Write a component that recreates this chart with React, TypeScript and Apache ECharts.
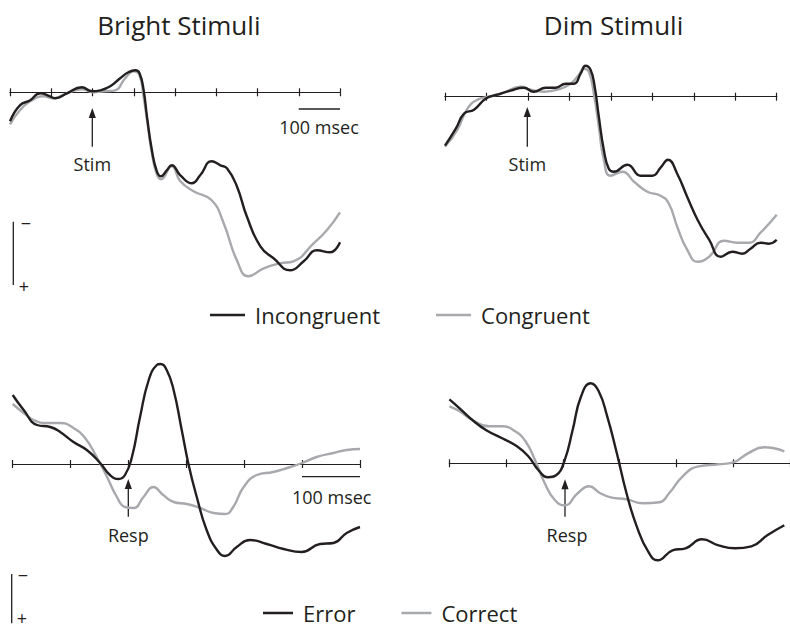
import React, { useEffect, useRef } from "react";
import * as echarts from "echarts";

// ---------- data (time in ms, amplitude in µV; negative plotted up) ----------
const brightIncT = [-200, -176, -151, -127, -103, -90, -62, -26, -1, 19, 43, 67, 87, 104, 114, 124, 132, 144, 156, 166, 180, 192, 213, 241, 261, 289, 310, 326, 350, 374, 407, 439, 479, 512, 544, 576, 600];
const brightIncV = [2.9, 1.3, 0.8, 0.1, 0.4, 0.6, 0.1, -0.5, -0.1, -0.2, -0.6, -1.4, -2.0, -2.2, -1.9, -0.2, 2.4, 5.8, 7.9, 8.4, 7.8, 7.3, 8.3, 9.1, 8.3, 6.9, 7.3, 7.6, 9.4, 12.4, 15.4, 16.6, 17.8, 16.9, 15.8, 16.0, 15.0];

const brightConT = [-200, -176, -151, -119, -95, -62, -26, 2, 27, 55, 79, 100, 114, 124, 132, 144, 156, 166, 192, 213, 245, 289, 318, 350, 378, 415, 455, 487, 536, 568, 600];
const brightConV = [3.2, 1.8, 0.9, 0.4, 0.6, 0.1, -0.3, 0, -0.1, -0.2, -1.4, -2.1, -1.7, 0.5, 2.7, 6.1, 8.2, 8.7, 7.4, 8.9, 9.9, 10.8, 13.1, 16.8, 18.4, 17.6, 17.1, 16.9, 15.1, 13.8, 12.0];

const dimIncT = [-200, -174, -154, -130, -102, -74, -42, -10, 14, 43, 67, 91, 111, 127, 139, 151, 161, 171, 183, 195, 207, 240, 272, 300, 320, 338, 360, 384, 409, 437, 465, 493, 517, 537, 561, 581, 600];
const dimIncV = [4.9, 3.2, 1.7, 1.3, 0.2, -0.2, -0.6, -0.9, -0.5, -0.9, -0.9, -1.3, -1.3, -2.3, -3.1, -2.7, -1.0, 2.0, 5.3, 7.2, 7.5, 6.8, 7.9, 7.9, 7.1, 6.3, 7.7, 10.0, 12.3, 14.3, 16.0, 15.5, 15.7, 15.2, 14.6, 14.7, 14.3];

const dimConT = [-200, -170, -146, -122, -94, -58, -18, 7, 39, 71, 103, 123, 135, 147, 159, 171, 183, 199, 228, 256, 288, 320, 340, 360, 384, 409, 437, 473, 505, 533, 561, 600];
const dimConV = [5.0, 3.3, 1.2, 0.3, 0, -0.4, -1.0, -0.7, -0.5, -0.7, -1.3, -2.2, -2.8, -2.5, -0.3, 3.0, 6.3, 7.9, 7.5, 8.5, 9.5, 9.9, 10.7, 13.0, 15.3, 16.5, 16.0, 14.4, 14.6, 14.6, 13.6, 11.8];

const brightErrT = [-200, -181, -158, -135, -118, -95, -72, -49, -32, -17, -6, 6, 20, 35, 49, 55, 66, 78, 92, 104, 118, 135, 153, 167, 187, 210, 239, 268, 299, 331, 354, 377, 400];
const brightErrV = [-6.9, -5.4, -3.9, -3.7, -3.2, -2.2, -1.4, -0.1, 1.1, 1.5, 1.1, -0.7, -4.7, -8.4, -9.9, -10.0, -9.4, -7.4, -3.4, 0.1, 3.3, 6.6, 8.6, 9.2, 8.3, 7.6, 8.0, 8.5, 8.8, 8.0, 7.9, 6.9, 6.3];

const brightCorT = [-200, -181, -164, -141, -118, -95, -75, -55, -37, -20, -6, 9, 26, 43, 60, 78, 101, 124, 147, 167, 181, 199, 222, 250, 274, 300, 325, 354, 377, 400];
const brightCorV = [-6.0, -5.1, -4.4, -4.1, -4.1, -3.6, -2.6, -0.7, 1.3, 3.3, 4.3, 4.4, 3.3, 2.3, 3.1, 3.8, 4.0, 4.4, 4.9, 5.0, 4.3, 2.3, 1.1, 0.8, 0.4, -0.1, -0.7, -1.1, -1.4, -1.5];

const dimErrT = [-200, -182, -159, -135, -107, -81, -61, -43, -26, -12, 3, 17, 32, 49, 63, 78, 95, 112, 130, 150, 167, 193, 216, 245, 274, 303, 332, 360, 390];
const dimErrV = [-6.4, -5.5, -4.3, -3.3, -2.5, -1.7, -0.7, 0.7, 1.4, 1.2, -0.3, -3.3, -6.7, -8.0, -7.2, -4.7, -1.0, 3.0, 6.3, 8.8, 9.7, 8.7, 8.5, 7.6, 8.2, 8.5, 8.3, 7.2, 6.2];

const dimCorT = [-200, -182, -159, -130, -107, -84, -66, -49, -32, -14, 3, 26, 46, 66, 84, 112, 141, 170, 187, 211, 239, 274, 300, 326, 355, 372, 390];
const dimCorV = [-5.7, -5.2, -4.3, -3.7, -3.7, -3.2, -2.2, -0.3, 2.0, 3.7, 4.2, 3.0, 2.3, 3.0, 3.4, 3.6, 4.0, 3.9, 3.0, 1.3, 0.3, 0.1, -0.1, -1.0, -1.6, -1.5, -1.2];

const panelTitles = ["Bright Stimuli", "Dim Stimuli"];
const topLegend = ["Incongruent", "Congruent"];
const bottomLegend = ["Error", "Correct"];
const xMin = -200;
const xMaxes = [600, 600, 400, 400];
const tickStep = 100;

const INK = "#231f20";
const GREY = "#a7a9ac";
const FONT = "Open Sans";

function pairs(t: number[], v: number[]) {
  return t.map((x, i) => [x, v[i]]);
}

export default function App() {
  const ref = useRef<HTMLDivElement>(null);

  useEffect(() => {
    const chart = echarts.init(ref.current as HTMLDivElement, null, { renderer: "svg" });

    const grids = [
      { left: 10, top: 52.3, width: 330, height: 240 },
      { left: 445, top: 56.7, width: 331.7, height: 240 },
      { left: 12.7, top: 344, width: 347.3, height: 240 },
      { left: 449.4, top: 343.3, width: 346.6, height: 240 },
    ];
    const yRanges = [
      [-4, 20],
      [-4, 20],
      [-12, 12],
      [-12, 12],
    ];

    // two x axes per panel (ticks below and above the zero line), each sitting
    // on the zero of its own (hidden, identical) y axis
    const xAxis: any[] = [];
    const yAxis: any[] = [];
    grids.forEach((_, i) => {
      ["bottom", "top"].forEach((pos, k) => {
        xAxis.push({
          type: "value",
          gridIndex: i,
          position: pos,
          min: xMin,
          max: xMaxes[i],
          interval: tickStep,
          axisLine: { show: true, onZero: true, onZeroAxisIndex: 2 * i + k, lineStyle: { color: INK, width: 1.2 } },
          axisTick: { show: true, length: 4, lineStyle: { color: INK, width: 1.2 } },
          axisLabel: { show: false },
          splitLine: { show: false },
        });
        yAxis.push({
          type: "value",
          gridIndex: i,
          position: k === 0 ? "left" : "right",
          inverse: true,
          min: yRanges[i][0],
          max: yRanges[i][1],
          show: false,
        });
      });
    });

    const mk = (name: string, t: number[], v: number[], color: string, i: number) => ({
      type: "line",
      name,
      xAxisIndex: 2 * i,
      yAxisIndex: 2 * i,
      data: pairs(t, v),
      showSymbol: false,
      symbol: "none",
      smooth: 0.5,
      lineStyle: { color, width: 2.4 },
      itemStyle: { color },
      z: color === INK ? 3 : 2,
      silent: true,
    });

    const series = [
      mk(topLegend[1], brightConT, brightConV, GREY, 0),
      mk(topLegend[0], brightIncT, brightIncV, INK, 0),
      mk(topLegend[1], dimConT, dimConV, GREY, 1),
      mk(topLegend[0], dimIncT, dimIncV, INK, 1),
      mk(bottomLegend[1], brightCorT, brightCorV, GREY, 2),
      mk(bottomLegend[0], brightErrT, brightErrV, INK, 2),
      mk(bottomLegend[1], dimCorT, dimCorV, GREY, 3),
      mk(bottomLegend[0], dimErrT, dimErrV, INK, 3),
    ];

    const txt = (x: number, y: number, s: string, size: number) => ({
      type: "text",
      x,
      y,
      silent: true,
      style: { text: s, fontFamily: FONT, fontSize: size, fill: INK, align: "center", verticalAlign: "middle" },
    });
    const ln = (x1: number, y1: number, x2: number, y2: number, w = 1.3) => ({
      type: "line",
      silent: true,
      shape: { x1, y1, x2, y2 },
      style: { stroke: INK, lineWidth: w },
    });
    const arrow = (x: number, tip: number, bottom: number) => [
      ln(x, tip + 6, x, bottom, 1.3),
      {
        type: "polygon",
        silent: true,
        shape: { points: [[x, tip], [x - 3.6, tip + 10], [x + 3.6, tip + 10]] },
        style: { fill: INK },
      },
    ];

    const graphic: any[] = [
      txt(178.8, 25, panelTitles[0], 26),
      txt(613.5, 25, panelTitles[1], 26),
      // stimulus / response markers
      ...arrow(92.3, 108, 146.7),
      txt(92.3, 164, "Stim", 18),
      ...arrow(527.3, 107, 146.7),
      txt(527.3, 164, "Stim", 18),
      ...arrow(128.3, 479, 516.7),
      txt(128.3, 535, "Resp", 18),
      ...arrow(565, 479.3, 516.7),
      txt(567, 535, "Resp", 18),
      // time scale bars
      ln(298.7, 109, 340, 109, 1.3),
      txt(319, 127, "100 msec", 18),
      ln(302, 476.7, 360, 476.7, 1.3),
      txt(331.7, 497, "100 msec", 18),
      // polarity bars
      ln(13.3, 221.7, 13.3, 285, 1.3),
      txt(26, 223, "−", 18),
      txt(24, 286, "+", 18),
      ln(11.7, 574, 11.7, 623.3, 1.3),
      txt(23, 575, "−", 18),
      txt(22, 618, "+", 18),
    ];

    const legendCommon = {
      icon: "rect",
      itemHeight: 2.5,
      selectedMode: false,
      padding: 0,
      orient: "horizontal",
      textStyle: { fontFamily: FONT, fontSize: 22, color: INK, padding: [0, 0, 0, 5] },
    };

    chart.setOption({
      animation: false,
      backgroundColor: "#ffffff",
      textStyle: { fontFamily: FONT },
      grid: grids.map((g) => ({ ...g, containLabel: false })),
      xAxis,
      yAxis,
      series,
      legend: [
        { ...legendCommon, data: topLegend, left: 210, top: 304, itemWidth: 35, itemGap: 56 },
        { ...legendCommon, data: bottomLegend, left: 263, top: 602, itemWidth: 30, itemGap: 46 },
      ],
      graphic,
    });

    return () => {
      chart.dispose();
    };
  }, []);

  return (
    <div
      ref={ref}
      style={{ position: "absolute", left: 0, top: 0, width: 790, height: 630, background: "#fff" }}
    />
  );
}
